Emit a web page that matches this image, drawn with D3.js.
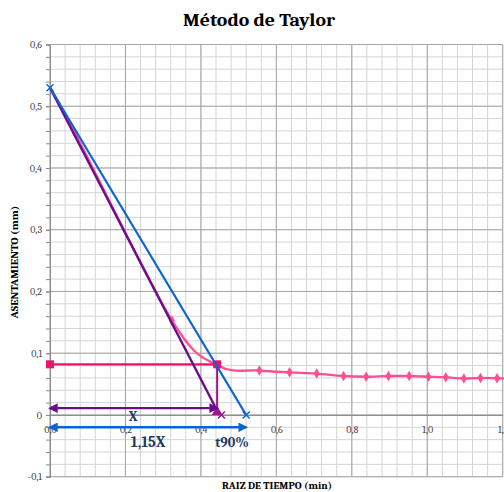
<!DOCTYPE html>
<html><head><meta charset="utf-8">
<script src="https://cdn.jsdelivr.net/npm/d3@7"></script>
<style>body{margin:0;background:#fff}svg{display:block}</style>
</head><body>
<script>
const pinkX = [0, 0.066, 0.323, 0.445, 0.555, 0.635, 0.707, 0.778, 0.838, 0.897, 0.952, 1.003, 1.049, 1.097, 1.141, 1.185, 1.23];
const pinkY = [0.53, 0.457, 0.153, 0.080, 0.072, 0.069, 0.067, 0.063, 0.062, 0.063, 0.063, 0.062, 0.061, 0.059, 0.060, 0.0595, 0.059];
const blueX = [0, 0.52];
const blueY = [0.53, 0];
const purpleX = [0, 0.449];
const purpleY = [0.53, 0];
const hLineX = [0, 0.443];
const hLineY = [0.082, 0.082];
const vLineX = [0.443, 0.443];
const vLineY = [0.082, 0];
const arrowX = [0, 0.443];
const arrowXY = 0.011;
const arrow115 = [0, 0.52];
const arrow115Y = -0.02;
const xTicks = [0, 0.2, 0.4, 0.6, 0.8, 1.0, 1.2];
const xTickLabels = ["0,0", "0,2", "0,4", "0,6", "0,8", "1,0", "1,2"];
const yTicks = [-0.1, 0, 0.1, 0.2, 0.3, 0.4, 0.5, 0.6];
const yTickLabels = ["-0,1", "0", "0,1", "0,2", "0,3", "0,4", "0,5", "0,6"];

const W = 504, H = 492;
const svg = d3.select("body").append("svg").attr("width", W).attr("height", H);
const x = d3.scaleLinear().domain([0, 1.2]).range([50, 502.7]);
const y = d3.scaleLinear().domain([-0.1, 0.6]).range([476.7, 44.5]);
const serif = "Cambria, 'Liberation Serif', 'DejaVu Serif', serif";

// minor grid
const minorX = d3.range(0, 1.2001, 0.04);
const minorY = d3.range(-0.1, 0.6001, 0.02);
const g = svg.append("g");
g.selectAll(".mx").data(minorX).enter().append("line")
  .attr("x1", d => x(d)).attr("x2", d => x(d)).attr("y1", y(0.6)).attr("y2", y(-0.1))
  .attr("stroke", "#d4d4d4").attr("stroke-width", 1);
g.selectAll(".my").data(minorY).enter().append("line")
  .attr("x1", x(0)).attr("x2", x(1.2)).attr("y1", d => y(d)).attr("y2", d => y(d))
  .attr("stroke", "#d4d4d4").attr("stroke-width", 1);
// major grid
g.selectAll(".Mx").data(xTicks).enter().append("line")
  .attr("x1", d => x(d)).attr("x2", d => x(d)).attr("y1", y(0.6)).attr("y2", y(-0.1))
  .attr("stroke", "#a6a6a6").attr("stroke-width", 1);
g.selectAll(".My").data(yTicks).enter().append("line")
  .attr("x1", x(0)).attr("x2", x(1.2)).attr("y1", d => y(d)).attr("y2", d => y(d))
  .attr("stroke", "#a6a6a6").attr("stroke-width", 1);

// y axis with minor ticks
const yAxisMinor = d3.axisLeft(y).tickValues(minorY).tickSize(4).tickFormat("");
svg.append("g").attr("transform", `translate(${x(0)},0)`).call(yAxisMinor)
  .call(s => s.selectAll("line,path").attr("stroke", "#8c8c8c"));
const yAxis = d3.axisLeft(y).tickValues(yTicks).tickSize(4)
  .tickFormat((d, i) => yTickLabels[i]);
svg.append("g").attr("transform", `translate(${x(0)},0)`).call(yAxis)
  .call(s => s.select(".domain").attr("stroke", "#8c8c8c"))
  .call(s => s.selectAll("line").attr("stroke", "#8c8c8c"))
  .call(s => s.selectAll("text").attr("font-family", serif).attr("font-size", 10).attr("fill", "#404040").attr("x", -8));

// x axis at y=0
const xAxis = d3.axisBottom(x).tickValues(xTicks).tickSize(0)
  .tickFormat((d, i) => xTickLabels[i]);
svg.append("g").attr("transform", `translate(0,${y(0)})`).call(xAxis)
  .call(s => s.select(".domain").attr("stroke", "#8c8c8c"))
  .call(s => s.selectAll("text").attr("font-family", serif).attr("font-size", 10).attr("fill", "#404040").attr("dy", "0.71em").attr("y", 11));

// pink smoothed curve
const pts = pinkX.map((d, i) => [d, pinkY[i]]);
const line = d3.line().x(d => x(d[0])).y(d => y(d[1])).curve(d3.curveCardinal.tension(0));
svg.append("path").attr("d", line(pts)).attr("fill", "none").attr("stroke", "#ff4f94").attr("stroke-width", 2.4);
svg.selectAll(".pm").data(pts.slice(1)).enter().append("path")
  .attr("d", d3.symbol().type(d3.symbolDiamond).size(32))
  .attr("transform", d => `translate(${x(d[0])},${y(d[1])})`)
  .attr("fill", "#ff4f94");

const straight = d3.line().x(d => x(d[0])).y(d => y(d[1]));
function seg(xs, ys, color, w) {
  const p = xs.map((d, i) => [d, ys[i]]);
  svg.append("path").attr("d", straight(p)).attr("fill", "none").attr("stroke", color).attr("stroke-width", w);
  return p;
}
function xMark(px, py, color) {
  const s = 3.5;
  svg.append("path").attr("d", `M${px - s},${py - s}L${px + s},${py + s}M${px - s},${py + s}L${px + s},${py - s}`)
    .attr("stroke", color).attr("stroke-width", 1.4).attr("fill", "none");
}

// crimson horizontal line with squares
const hp = seg(hLineX, hLineY, "#e8156b", 2.2);
hp.forEach(d => svg.append("rect").attr("x", x(d[0]) - 4).attr("y", y(d[1]) - 4).attr("width", 8).attr("height", 8).attr("fill", "#e8156b"));

// purple diagonal
const pp = seg(purpleX, purpleY, "#6a0d8c", 2.4);
xMark(x(pp[1][0]) + 2, y(pp[1][1]), "#7a1a9c");

// vertical magenta-purple line with triangle
const vp = seg(vLineX, vLineY, "#a0148f", 2);
svg.append("path").attr("d", d3.symbol().type(d3.symbolTriangle).size(50))
  .attr("transform", `translate(${x(vp[1][0])},${y(vp[1][1]) - 3})`).attr("fill", "#a0148f");

// blue line
const bp = seg(blueX, blueY, "#0a64d2", 2.2);
bp.forEach(d => xMark(x(d[0]), y(d[1]), "#0a64d2"));

// arrows
const defs = svg.append("defs");
function marker(id, color) {
  defs.append("marker").attr("id", id).attr("viewBox", "0 0 10 10").attr("refX", 8).attr("refY", 5)
    .attr("markerWidth", 4).attr("markerHeight", 4).attr("orient", "auto-start-reverse")
    .attr("markerUnits", "strokeWidth")
    .append("path").attr("d", "M0,0L10,5L0,10z").attr("fill", color);
}
marker("ap", "#6a0d8c");
marker("ab", "#0a64d2");
svg.append("line").attr("x1", x(arrowX[0])).attr("x2", x(arrowX[1])).attr("y1", y(arrowXY)).attr("y2", y(arrowXY))
  .attr("stroke", "#6a0d8c").attr("stroke-width", 2.4)
  .attr("marker-start", "url(#ap)").attr("marker-end", "url(#ap)");
svg.append("line").attr("x1", x(arrow115[0])).attr("x2", x(arrow115[1])).attr("y1", y(arrow115Y)).attr("y2", y(arrow115Y))
  .attr("stroke", "#0a64d2").attr("stroke-width", 2.4)
  .attr("marker-start", "url(#ab)").attr("marker-end", "url(#ab)");

// labels
const lab = (t, cx, cy, fs) => svg.append("text").text(t).attr("x", cx).attr("y", cy)
  .attr("text-anchor", "middle").attr("dominant-baseline", "central")
  .attr("font-family", serif).attr("font-weight", "bold").attr("font-size", fs).attr("fill", "#1f3864");
lab("X", 133, 416, 14);
lab("1,15X", 148, 442, 15);
lab("t90%", 232, 442, 14);

// title & axis titles
svg.append("text").text("Método de Taylor").attr("x", 259).attr("y", 26).attr("text-anchor", "middle")
  .attr("font-family", serif).attr("font-weight", "bold").attr("font-size", 18)
  .attr("textLength", 152).attr("lengthAdjust", "spacingAndGlyphs").attr("fill", "#000");
svg.append("text").text("RAIZ DE TIEMPO (min)").attr("x", 277).attr("y", 489).attr("text-anchor", "middle")
  .attr("font-family", serif).attr("font-weight", "bold").attr("font-size", 9.5)
  .attr("textLength", 110).attr("lengthAdjust", "spacingAndGlyphs").attr("fill", "#000");
svg.append("text").text("ASENTAMIENTO (mm)").attr("transform", "translate(18,262) rotate(-90)").attr("text-anchor", "middle")
  .attr("font-family", serif).attr("font-weight", "bold").attr("font-size", 9.5)
  .attr("textLength", 113).attr("lengthAdjust", "spacingAndGlyphs").attr("fill", "#000");
</script>
</body></html>
